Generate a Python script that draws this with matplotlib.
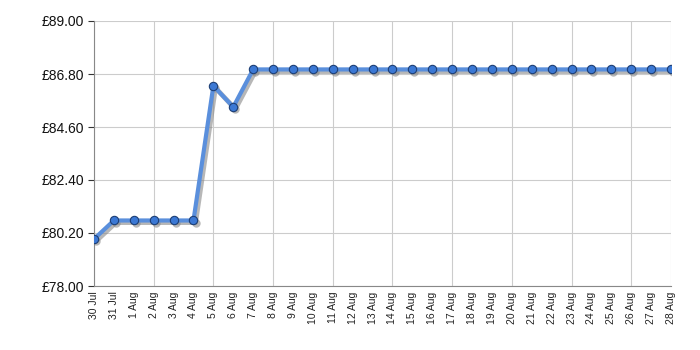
import matplotlib
matplotlib.use("Agg")
import matplotlib.pyplot as plt
import matplotlib.transforms as mtransforms
import numpy as np

plt.rcParams['font.family'] = ['Liberation Sans', 'DejaVu Sans']

dates = ["30 Jul", "31 Jul"] + [f"{d} Aug" for d in range(1, 29)]
prices = [79.95, 80.72, 80.72, 80.72, 80.72, 80.72, 86.31, 85.43] + [86.99] * 22
yticks = [78.00, 80.20, 82.40, 84.60, 86.80, 89.00]

fig = plt.figure(figsize=(7, 3.5), dpi=100)
ax = fig.add_axes([94/700, 1-286/350, (671-94)/700, (286-21)/350])

x = np.arange(len(dates))
shadow = mtransforms.offset_copy(ax.transData, fig=fig, x=1.5, y=-1.5, units="points")
ax.plot(x, prices, color="#888888", lw=3.5, alpha=0.6, transform=shadow, zorder=2,
        marker="o", markersize=6, markeredgewidth=0, solid_capstyle="round")
ax.plot(x, prices, color="#5a8fdc", lw=3, zorder=3, solid_capstyle="round")
ax.plot(x, prices, ls="none", marker="o", markersize=6, markerfacecolor="#3b78d4",
        markeredgecolor="#1d3f75", markeredgewidth=0.8, zorder=4)

ax.set_xlim(0, len(dates)-1)
ax.set_ylim(78, 89)
ax.set_yticks(yticks)
ax.set_yticklabels([f"£{v:.2f}" for v in yticks], fontsize=10, color="#111111")
ax.set_xticks(x)
ax.set_xticklabels(dates, rotation=90, fontsize=7.5, color="#222222")
ax.set_xticks(x[::3], minor=True)

ax.tick_params(axis="x", which="major", length=0, pad=4)
ax.tick_params(axis="x", which="minor", length=4, color="#333333")
ax.tick_params(axis="y", length=4, color="#333333", pad=3)

ax.grid(False)
for xv in x[::3]:
    ax.axvline(xv, color="#cccccc", lw=0.8, zorder=1)
ax.axvline(x[-1], color="#cccccc", lw=0.8, zorder=1)
for yv in yticks:
    ax.axhline(yv, color="#cccccc", lw=0.8, zorder=1)

for s in ["left", "bottom"]:
    ax.spines[s].set_color("#888888")
for s in ["top", "right"]:
    ax.spines[s].set_visible(False)

fig.savefig("out.png", dpi=100)
